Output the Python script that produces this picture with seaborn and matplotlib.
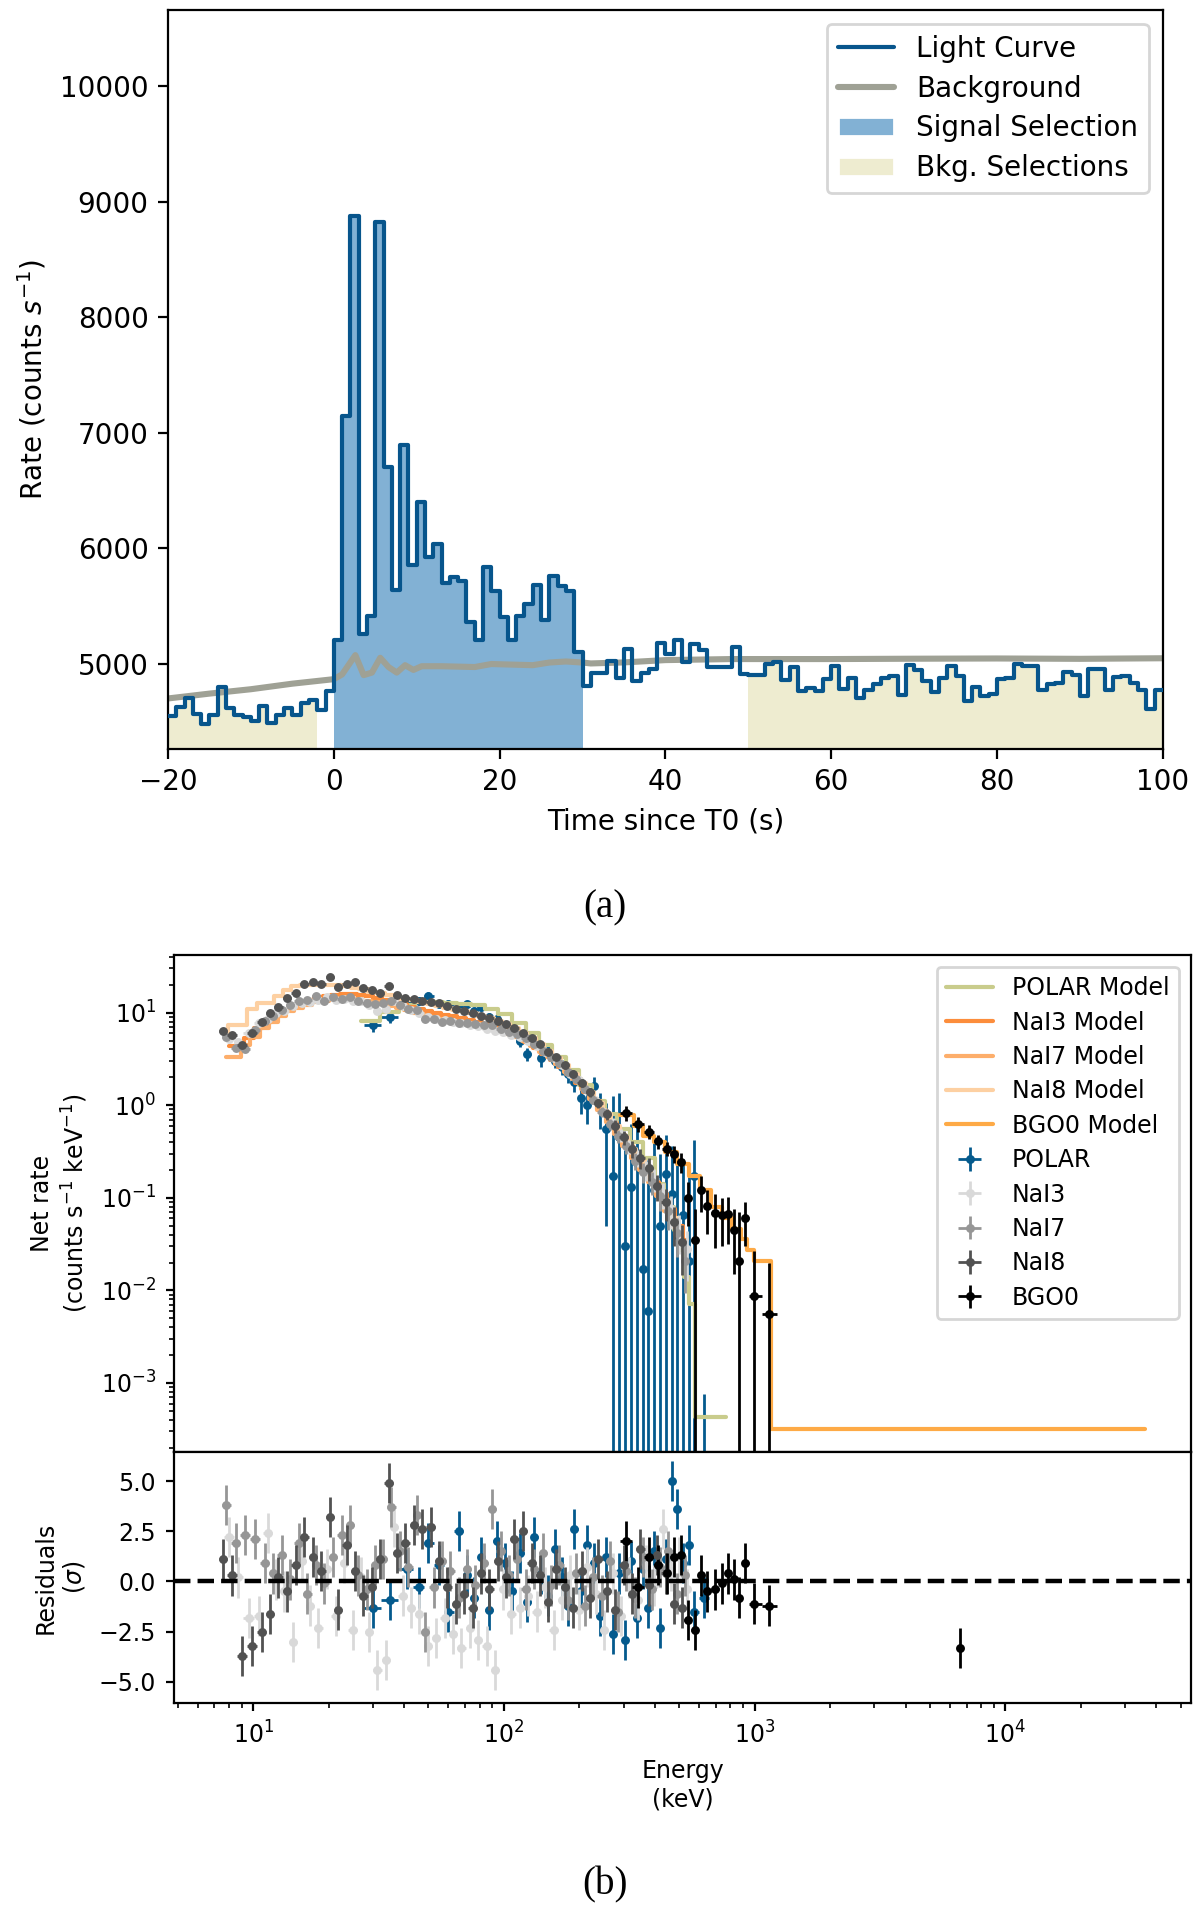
import numpy as np
import pandas as pd
import matplotlib
matplotlib.use("Agg")
import matplotlib.pyplot as plt
import seaborn as sns
from matplotlib.lines import Line2D
from matplotlib.patches import Patch

# ---------------- Panel (a): light curve data ----------------
lc_time = list(range(-20, 100))          # 1 s bins (bin start)
lc_rate = [
    4552, 4629, 4702, 4568, 4478, 4558, 4798, 4622, 4558, 4542,
    4510, 4638, 4488, 4558, 4622, 4558, 4661, 4693, 4606, 4766,
    5208, 7144, 8878, 5256, 5416, 8821, 6702, 5640, 6894, 5854,
    6398, 5928, 6037, 5704, 5749, 5720, 5365, 5208, 5838, 5630,
    5406, 5208, 5413, 5518, 5685, 5381, 5758, 5672, 5630, 5102,
    4808, 4926, 4926, 5028, 4882, 5131, 4852, 4926, 4955, 5181,
    5087, 5205, 5014, 5175, 5122, 4970, 4970, 4970, 5146, 4911,
    4905, 4905, 4999, 5014, 4858, 4970, 4764, 4793, 4770, 4867,
    4979, 4787, 4883, 4707, 4771, 4829, 4883, 4893, 4733, 4995,
    4947, 4851, 4755, 4883, 4979, 4899, 4681, 4803, 4723, 4739,
    4873, 4883, 5001, 4980, 4980, 4771, 4829, 4840, 4935, 4903,
    4723, 4960, 4955, 4771, 4887, 4893, 4840, 4771, 4611, 4771,
]
bkg_time = [-20, -15, -10, -5, 0, 1, 2.6, 3.6, 4.6, 5.6, 6.6, 7.6, 8.6, 9.6, 10.6,
            13, 17, 19, 24, 26, 28, 30, 31, 35, 40, 48, 60, 70, 80, 90, 100]
bkg_rate = [4702, 4744, 4782, 4830, 4869, 4910, 5077, 4904, 4926, 5054, 4974, 4926,
            4990, 4949, 4981, 4981, 4974, 5000, 4990, 5013, 5022, 5013, 5005, 5014,
            5034, 5043, 5043, 5046, 5048, 5045, 5050]
signal_sel = [(0, 30)]
bkg_sel = [(-20, -2), (50, 100)]

# ---------------- Panel (b): spectral data ----------------
n8_E = [7.6, 8.2, 9.0, 9.9, 10.8, 11.7, 12.6, 13.6, 14.8, 16.0, 17.3, 18.7, 20.2, 21.8,
        23.6, 25.5, 27.5, 29.7, 32.1, 34.7, 37.4, 40.4, 43.7, 47.2, 51.0, 55.0, 59.5,
        64.2, 69.4, 75.0, 81.0, 87.5, 94.5, 102, 110, 119, 129, 139, 150, 162, 175,
        189, 204, 220, 238, 257, 278, 300, 324, 350, 378, 408, 441, 476, 514]
n8_R = [6.3, 5.8, 4.5, 6.0, 8.0, 9.8, 11.5, 14.5, 16.5, 20.5, 21.5, 20.5, 24.0, 19.0,
        20.5, 21.5, 18.5, 17.5, 16.3, 19.5, 15.5, 14.5, 14.0, 13.5, 13.0, 12.6, 11.8,
        11.0, 10.4, 9.8, 9.2, 8.8, 8.2, 7.5, 6.9, 6.1, 5.3, 4.6, 3.8, 3.3, 2.7,
        2.2, 1.75, 1.38, 1.05, 0.80, 0.60, 0.45, 0.34, 0.27, 0.21, 0.135, 0.09, 0.055, 0.033]
n8_M = [6.0, 7.4, 7.4, 11.0, 12.8, 12.8, 15.2, 17.4, 19.5, 19.9, 20.0, 20.0, 20.0, 19.8,
        19.5, 18.6, 17.8, 16.9, 16.2, 15.5, 14.8, 14.2, 13.6, 13.0, 12.4, 11.9, 11.3,
        10.8, 10.3, 9.8, 9.3, 8.7, 8.1, 7.5, 6.8, 6.1, 5.3, 4.6, 3.9, 3.25, 2.7,
        2.2, 1.75, 1.38, 1.05, 0.8, 0.6, 0.45, 0.34, 0.25, 0.19, 0.135, 0.09, 0.06, 0.04]
n8_res = [1.1, 0.3, -3.7, -3.2, -2.5, -1.6, 0.2, -0.5, 0.8, 2.2, 1.2, 0.5, 3.2, -1.4,
          1.8, 0.5, -0.7, -0.3, 1.1, 4.9, 1.4, 1.9, 2.8, 2.6, 2.7, 1.0, -0.3,
          -1.1, -0.6, -1.3, 0.4, -0.4, 1.0, 0.2, 2.1, 2.5, 0.9, 0.3, -1.0, 0.6, -0.3,
          -1.3, 0.5, -0.8, 1.1, -0.5, -1.4, 0.8, -0.6, 1.6, -0.2, 1.3, 0.4, -1.1, -1.3]

n7_E = [7.8, 8.5, 9.3, 10.2, 11.1, 12.0, 13.0, 14.0, 15.2, 16.4, 17.8, 19.2, 20.8, 22.5,
        24.3, 26.2, 28.3, 30.6, 33.0, 35.6, 38.5, 41.6, 44.9, 48.5, 52.4, 56.6, 61.1,
        66.0, 71.3, 77.0, 83.2, 89.8, 97.0, 105, 113, 122, 132, 143, 154, 166, 180,
        194, 210, 226, 245, 264, 285, 308, 333, 360, 388, 419, 453, 489, 525]
n7_R = [5.5, 4.2, 4.0, 6.5, 8.2, 9.3, 10.8, 12.0, 13.2, 13.8, 15.0, 13.5, 14.6, 14.2,
        14.8, 13.4, 12.6, 12.5, 12.8, 13.5, 12.0, 11.0, 10.6, 8.6, 8.6, 8.0, 8.2,
        7.8, 7.8, 7.6, 7.4, 7.3, 6.6, 6.2, 5.9, 5.3, 4.6, 3.9, 3.3, 2.85, 2.3,
        1.9, 1.5, 1.15, 0.85, 0.63, 0.47, 0.36, 0.25, 0.19, 0.15, 0.105, 0.072, 0.042, 0.021]
n7_M = [3.3, 3.3, 4.5, 5.5, 6.8, 8.0, 9.2, 10.3, 11.3, 12.2, 12.9, 13.5, 13.9, 14.1,
        14.1, 13.9, 13.5, 13.0, 12.4, 11.8, 11.2, 10.6, 10.0, 9.5, 9.0, 8.6, 8.2,
        7.9, 7.6, 7.3, 7.0, 6.7, 6.3, 5.9, 5.4, 4.9, 4.35, 3.8, 3.3, 2.8, 2.3,
        1.9, 1.5, 1.17, 0.88, 0.66, 0.49, 0.36, 0.27, 0.2, 0.15, 0.105, 0.072, 0.048, 0.032]
n7_res = [3.8, 1.9, 2.3, 2.1, 0.9, 0.4, 1.3, 0.1, 1.9, -0.6, 0.8, -0.1, 1.2, 2.3,
          2.8, 0.3, -0.4, 0.8, 1.1, 3.7, 1.5, 0.7, 3.3, -2.5, -0.3, 1.0, 0.5,
          -0.8, 0.6, -0.2, 0.9, 3.6, 1.5, 0.3, 1.1, -0.4, 0.6, 1.4, -0.2, 0.8, -0.9,
          0.4, -1.2, 0.2, -0.7, 1.0, -1.5, 0.5, -0.8, 1.2, -0.4, 0.7, 1.5, -0.6, 0.3]

n3_E = [8.0, 8.7, 9.6, 10.5, 11.4, 12.3, 13.3, 14.4, 15.6, 16.9, 18.2, 19.7, 21.3, 23.0,
        24.9, 26.9, 29.0, 31.3, 33.8, 36.5, 39.4, 42.6, 46.0, 49.7, 53.7, 58.0, 62.6,
        67.6, 73.0, 78.9, 85.2, 92.0, 99.4, 107, 116, 125, 135, 146, 158, 170, 184,
        199, 215, 232, 251, 271, 292, 316, 341, 368, 398, 430, 464, 501, 535]
n3_R = [5.2, 4.8, 6.0, 7.8, 8.6, 10.0, 10.5, 11.8, 12.8, 13.0, 13.8, 14.6, 13.6, 14.2,
        13.5, 13.2, 12.0, 10.5, 11.0, 13.2, 11.8, 10.8, 9.8, 9.0, 8.6, 8.3, 7.9,
        7.7, 7.3, 7.1, 6.7, 6.3, 6.2, 5.8, 5.4, 4.9, 4.4, 3.8, 3.2, 2.75, 2.2,
        1.85, 1.45, 1.12, 0.84, 0.64, 0.48, 0.36, 0.27, 0.2, 0.16, 0.11, 0.075, 0.045, 0.028]
n3_M = [4.4, 4.4, 5.3, 6.9, 8.0, 9.3, 10.6, 11.8, 12.9, 13.8, 14.6, 15.2, 15.6, 15.8,
        15.8, 15.5, 15.0, 14.4, 13.8, 13.0, 12.3, 11.6, 11.0, 10.4, 9.9, 9.5, 9.1,
        8.7, 8.3, 7.9, 7.5, 7.0, 6.5, 6.0, 5.4, 4.8, 4.2, 3.6, 3.1, 2.6, 2.15,
        1.75, 1.4, 1.1, 0.84, 0.64, 0.48, 0.36, 0.27, 0.2, 0.15, 0.11, 0.075, 0.05, 0.035]
n3_res = [2.2, 0.2, -1.8, -1.7, 2.4, 0.1, -0.5, -3.0, 1.0, -1.2, -2.3, 0.6, -1.7, 0.9,
          -2.4, 0.2, -2.5, -4.4, -3.9, 2.7, -0.7, -1.3, -1.6, -3.2, -2.8, -1.8, -2.6,
          -3.3, -2.3, -2.9, -3.2, -4.4, -0.4, -1.6, -1.3, -0.7, -1.5, -0.3, -2.4, -0.9, 0.3,
          -1.4, 0.7, -0.6, -2.4, 0.4, -1.7, 0.2, -0.9, 0.8, -0.2, 2.6, 0.5, 1.2, -0.4]

nai_relerr = [0.06, 0.06, 0.06, 0.05, 0.05, 0.05, 0.05, 0.04, 0.04, 0.04,
              0.04, 0.04, 0.04, 0.04, 0.04, 0.04, 0.04, 0.04, 0.04, 0.04,
              0.04, 0.04, 0.04, 0.04, 0.04, 0.04, 0.04, 0.04, 0.04, 0.04,
              0.05, 0.05, 0.05, 0.05, 0.05, 0.06, 0.06, 0.06, 0.07, 0.07,
              0.08, 0.09, 0.10, 0.11, 0.12, 0.14, 0.16, 0.18, 0.21, 0.24,
              0.28, 0.32, 0.38, 0.45, 0.55]

pol_E = [30, 35, 41, 46, 50, 55, 60, 66, 71, 76, 81, 87, 94, 101, 108, 116, 124, 132,
         141, 150, 160, 170, 180, 191, 203, 215, 228, 242, 256, 271, 287, 303, 320,
         338, 357, 377, 398, 420, 443, 467, 492, 518, 545, 575, 630]
pol_R = [7.4, 9.0, 13.0, 13.5, 15.2, 12.5, 12.5, 11.5, 12.3, 10.5, 11.5, 9.0, 8.6, 7.2,
         6.5, 5.0, 3.6, 4.6, 3.2, 3.9, 3.0, 2.6, 2.2, 1.8, 1.2, 1.0, 1.6, 0.95, 0.55,
         0.17, 0.45, 0.03, 0.13, 0.24, 0.017, 0.006, 0.12, 0.05, 0.18, 0.11, 0.04,
         0.065, 0.021, 0.17, 2e-5]
pol_err = [1.2, 1.3, 1.5, 1.4, 1.5, 1.3, 1.2, 1.2, 1.2, 1.1, 1.1, 1.0, 1.0, 0.9, 0.8,
           0.7, 0.6, 0.6, 0.6, 0.55, 0.5, 0.5, 0.45, 0.4, 0.4, 0.38, 0.4, 0.4, 0.5,
           1.1, 0.9, 0.3, 0.5, 0.4, 0.3, 0.25, 0.3, 0.25, 0.3, 0.25, 0.2, 0.2, 0.15,
           0.25, 7.5e-4]
pol_res = [-1.3, -0.9, 0.6, -0.3, 1.9, 0.8, -1.5, 2.5, 0.3, -0.8, 1.2, -1.4, 2.0, 0.9,
           -0.5, 1.4, -1.0, 2.2, 0.4, -0.7, 1.6, 0.2, -1.2, 2.6, -0.5, 1.8, 0.9, -1.7,
           1.2, -2.6, 0.4, -2.9, 1.0, -1.8, 0.6, -1.3, 1.5, -2.3, 1.1, 5.0, 3.6, 0.9,
           1.8, -1.5, -0.8]

bgo_E = [308, 344, 380, 413, 445, 476, 509, 541, 576, 613, 648, 697, 741, 781, 825,
         867, 912, 993, 1143]
bgo_R = [0.82, 0.63, 0.52, 0.41, 0.34, 0.30, 0.245, 0.10, 0.035, 0.12, 0.081, 0.069,
         0.065, 0.067, 0.045, 0.021, 0.06, 0.0087, 0.0056]
bgo_err = [0.15, 0.12, 0.09, 0.07, 0.06, 0.06, 0.06, 0.05, 0.04, 0.05, 0.04, 0.04,
           0.035, 0.035, 0.03, 0.05, 0.03, 0.018, 0.014]
bgo_res = [2.0, -0.3, 1.2, 0.8, 0.4, 1.2, 1.3, -1.9, -2.4, 0.3, -0.5, -0.4, -0.1, 0.4,
           0.1, -0.8, 0.9, -1.1, -1.2]
bgo_far_E = [6580]
bgo_far_res = [-3.3]

# step models (value holds from edge i to edge i+1)
polm_E = [27, 32, 38, 44, 50, 57, 65, 74, 84, 95, 108, 122, 138, 156, 176, 199, 224,
          252, 283, 318, 357, 400, 435, 476, 498, 521, 545, 578, 769]
polm_R = [8.2, 10.2, 12.0, 13.0, 13.0, 12.8, 12.5, 12.0, 11.0, 9.6, 7.8, 6.0, 4.5, 3.3,
          2.4, 1.65, 1.1, 0.8, 0.55, 0.4, 0.27, 0.14, 0.08, 0.045, 0.027, 0.014,
          0.0072, 4.3e-4, 4.3e-4]
bgom_E = [290, 330, 360, 395, 440, 490, 545, 605, 670, 740, 810, 880, 930, 995, 1160, 36000]
bgom_R = [0.78, 0.6, 0.47, 0.4, 0.31, 0.23, 0.17, 0.12, 0.08, 0.06, 0.046, 0.036,
          0.027, 0.021, 3.2e-4, 3.2e-4]

# ---------------- styling ----------------
sns.set_style("ticks")
plt.rcParams.update({
    "font.family": ["DejaVu Sans"],
    "axes.edgecolor": "black", "axes.labelcolor": "black",
    "xtick.color": "black", "ytick.color": "black", "text.color": "black",
    "axes.linewidth": 0.8,
})

C_LC = "#07558c"
C_BKG = "#9fa195"
C_SIG_FILL = "#82b1d4"
C_BKG_FILL = "#eeecd0"

fig = plt.figure(figsize=(6.0, 9.58), dpi=200)

# ---------------- Panel (a) ----------------
ax = fig.add_axes([0.140, 0.6091, 0.8290, 0.3857])
edges = np.array(lc_time + [lc_time[-1] + 1], dtype=float)
vals = np.array(lc_rate + [lc_rate[-1]], dtype=float)

for a, b in signal_sel:
    m = (edges >= a) & (edges <= b)
    ax.fill_between(edges[m], 0, vals[m], step="post", color=C_SIG_FILL, lw=0, zorder=1)
for a, b in bkg_sel:
    m = (edges >= a) & (edges <= b)
    ax.fill_between(edges[m], 0, vals[m], step="post", color=C_BKG_FILL, lw=0, zorder=1)

df_bkg = pd.DataFrame({"t": bkg_time, "rate": bkg_rate})
sns.lineplot(data=df_bkg, x="t", y="rate", ax=ax, color=C_BKG, lw=2.2,
             estimator=None, zorder=2)
df_lc = pd.DataFrame({"t": edges, "rate": vals})
sns.lineplot(data=df_lc, x="t", y="rate", ax=ax, color=C_LC, lw=1.5,
             drawstyle="steps-post", estimator=None, zorder=3)

ax.set_xlim(-20, 100)
ax.set_ylim(4265, 10660)
ax.set_xticks([-20, 0, 20, 40, 60, 80, 100])
ax.set_yticks([5000, 6000, 7000, 8000, 9000, 10000])
ax.tick_params(labelsize=10, length=3.5, width=0.8, direction="out")
ax.set_xlabel("Time since T0 (s)", fontsize=10)
ax.set_ylabel("Rate (counts $s^{-1}$)", fontsize=10)
h_a = [Line2D([0], [0], color=C_LC, lw=1.5), Line2D([0], [0], color=C_BKG, lw=2.2),
       Patch(facecolor=C_SIG_FILL), Patch(facecolor=C_BKG_FILL)]
ax.legend(h_a, ["Light Curve", "Background", "Signal Selection", "Bkg. Selections"],
          loc="upper right", fontsize=10, frameon=True, labelspacing=0.42)

fig.text(0.504, 0.526, "(a)", ha="center", va="center",
         family=["Liberation Serif", "DejaVu Serif"], fontsize=14)

# ---------------- Panel (b) ----------------
ax_s = fig.add_axes([0.145, 0.2422, 0.8475, 0.2594])
ax_r = fig.add_axes([0.145, 0.1112, 0.8475, 0.1310], sharex=ax_s)
for a_ in (ax_s, ax_r):
    a_.set_xscale("log")
ax_s.set_yscale("log")


def half_widths(e):
    e = np.asarray(e, float)
    mid = np.sqrt(e[1:] * e[:-1])
    lo = np.concatenate([[e[0] ** 2 / mid[0]], mid])
    hi = np.concatenate([mid, [e[-1] ** 2 / mid[-1]]])
    return np.vstack([e - lo, hi - e])


COL = {"POLAR": "#045a8d", "NaI3": "#d9d9d9", "NaI7": "#969696", "NaI8": "#525252", "BGO0": "#000000"}
MCOL = {"POLAR": "#c9cc8c", "NaI3": "#fc8d3c", "NaI7": "#fdae6b", "NaI8": "#fdd0a2", "BGO0": "#feaa46"}

# models
model_lines = []
for name, E, M, ds in [("POLAR", polm_E, polm_R, "steps-post"),
                       ("NaI3", n3_E, n3_M, "steps-mid"),
                       ("NaI7", n7_E, n7_M, "steps-mid"),
                       ("NaI8", n8_E, n8_M, "steps-mid"),
                       ("BGO0", bgom_E, bgom_R, "steps-post")]:
    sns.lineplot(x=E, y=M, ax=ax_s, color=MCOL[name], lw=1.5, drawstyle=ds,
                 estimator=None, zorder=2.5)
    model_lines.append(Line2D([0], [0], color=MCOL[name], lw=1.5))

datasets = [
    ("POLAR", pol_E, pol_R, np.array(pol_err), pol_res, 2.0),
    ("NaI3", n3_E, n3_R, np.array(n3_R) * np.array(nai_relerr), n3_res, 3.0),
    ("NaI7", n7_E, n7_R, np.array(n7_R) * np.array(nai_relerr), n7_res, 3.1),
    ("NaI8", n8_E, n8_R, np.array(n8_R) * np.array(nai_relerr), n8_res, 3.2),
    ("BGO0", bgo_E, bgo_R, np.array(bgo_err), bgo_res, 3.3),
]
data_handles = []
for name, E, R, err, res, z in datasets:
    xe = half_widths(E)
    h = ax_s.errorbar(E, R, xerr=xe, yerr=err, fmt="o", ms=2.2, color=COL[name],
                      elinewidth=1.0, capsize=0, zorder=z)
    ax_r.errorbar(E, res, xerr=xe, yerr=np.ones(len(res)), fmt="o", ms=2.2,
                  color=COL[name], elinewidth=1.0, capsize=0, zorder=z)
    data_handles.append(h)
ax_r.errorbar(bgo_far_E, bgo_far_res, yerr=np.ones(len(bgo_far_res)), fmt="o", ms=2.2,
              color=COL["BGO0"], elinewidth=1.0, capsize=0, zorder=3.3)

ax_r.axhline(0, color="black", ls="--", lw=1.6, zorder=6)

ax_s.set_xlim(4.83, 55000)
ax_s.set_ylim(1.8e-4, 42)
ax_r.set_ylim(-6.05, 6.45)
ax_r.set_yticks([-5.0, -2.5, 0.0, 2.5, 5.0])
ax_r.set_yticklabels(["\u22125.0", "\u22122.5", "0.0", "2.5", "5.0"])
ax_s.tick_params(labelbottom=False)
for a_ in (ax_s, ax_r):
    a_.tick_params(which="major", labelsize=8.5, length=3.0, width=0.8)
    a_.tick_params(which="minor", length=1.7, width=0.6)

ax_s.set_ylabel("Net rate\n(counts s$^{-1}$ keV$^{-1}$)", fontsize=8.5)
ax_r.set_ylabel("Residuals\n($\\sigma$)", fontsize=8.5)
ax_r.set_xlabel("Energy\n(keV)", fontsize=8.5)
fig.align_ylabels([ax_s, ax_r])

ax_s.legend(model_lines + data_handles,
            ["POLAR Model", "NaI3 Model", "NaI7 Model", "NaI8 Model", "BGO0 Model",
             "POLAR", "NaI3", "NaI7", "NaI8", "BGO0"],
            loc="upper right", fontsize=8.5, frameon=True, labelspacing=0.44)

fig.text(0.504, 0.016, "(b)", ha="center", va="center",
         family=["Liberation Serif", "DejaVu Serif"], fontsize=14)

fig.savefig("out.png", dpi=200)
